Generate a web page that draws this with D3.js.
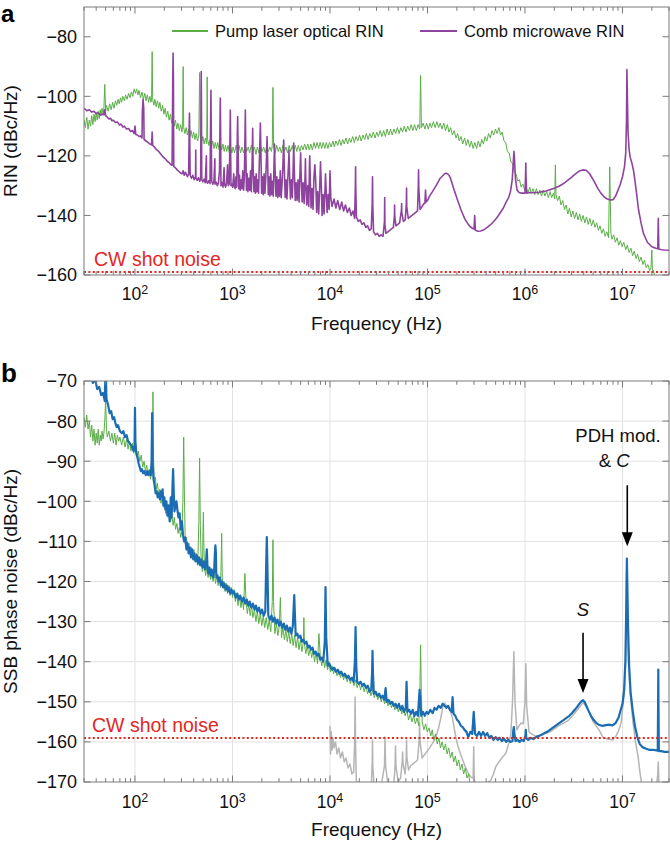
<!DOCTYPE html>
<html><head><meta charset="utf-8">
<script src="https://cdn.jsdelivr.net/npm/d3@7"></script>
<style>body{margin:0;background:#fff}svg{display:block;font-family:"Liberation Sans",Arial,Helvetica,sans-serif}</style>
</head><body><svg id="c" width="670" height="841"></svg>
<script>
// ---------- DATA (frequency in Hz, level in dB) ----------
const xTickDecades = [1e2,1e3,1e4,1e5,1e6,1e7];
const yTicksA = [-160,-140,-120,-100,-80];
const yTicksB = [-170,-160,-150,-140,-130,-120,-110,-100,-90,-80,-70];
const shotNoise = -159;
const legendLabels = ["Pump laser optical RIN","Comb microwave RIN"];

const pumpRIN = [
[30,-108],[31,-110.5],[32,-107],[33,-111],[34,-108],[35,-110],[36,-106.5],[37,-109.5],[38,-106],[39,-108.5],[40,-105.5],[41,-108],[42,-105],[43,-107.5],[44,-104.5],[45,-106.5],[46,-104],[47,-106],[48,-104],[49,-96],[50,-105],[51,-103],[53,-105],[55,-102.5],[57,-104.5],[59,-102],[61,-104],[63,-101.5],[65,-103],[67,-101],[69,-102.5],[71,-100.5],[73,-102],[75,-100],[78,-101.5],[80,-99.5],[83,-101],[86,-99],[89,-100.5],[92,-98.5],[95,-100],[98,-97.5],[101,-99],[104,-97.5],[107,-99.5],
[110,-98],[114,-100.5],[118,-98.5],[122,-101],[126,-99],[130,-101.5],[134,-99.5],[138,-102],[142,-100],[146,-102],[148,-100.5],[150,-85],[152,-101],[156,-103],[160,-101],[165,-103.5],[170,-101.5],[175,-104],[180,-102],[186,-105],[192,-103],[198,-106],[204,-104],[210,-107],[217,-105],[224,-108],[231,-106],[238,-109],[245,-107],[252,-110],[260,-108],[268,-111],[276,-109],[285,-111.5],[294,-109.5],[303,-112],[308,-110],[312,-90],[316,-110.5],[325,-112.5],[335,-110.5],[345,-113],[355,-111],[366,-113.5],[377,-111.5],[388,-114],[400,-112],[412,-114.5],[425,-112.5],[438,-115],[452,-113],[460,-92],[468,-113.5],[482,-115.5],[497,-113.5],[512,-116],[528,-114],[544,-116],[550,-93.5],[556,-114.5],[573,-116.5],[590,-114.5],[608,-117],[627,-115],[646,-117.5],[666,-115.5],[686,-117.5],[707,-115.5],[729,-118],[751,-116],[774,-118],[798,-116],[822,-118.5],[847,-116.5],[873,-118.5],[900,-116.5],[928,-119],[956,-117],[985,-119],
[1015,-117],[1050,-119],[1090,-116.5],[1130,-118.5],[1170,-116.5],[1210,-119],[1250,-117],[1300,-119],[1350,-116.5],[1400,-118.5],[1450,-117],[1500,-119],[1560,-116.5],[1620,-118.5],[1680,-117],[1740,-119.5],[1800,-117],[1870,-119],[1940,-116.5],[2010,-118.5],[2090,-117],[2170,-119],[2250,-116.5],[2330,-118.5],[2420,-117],[2510,-118.5],[2560,-116.5],[2600,-97],[2640,-117],[2740,-119],[2840,-116.5],[2950,-118.5],[3060,-117],[3170,-119],[3290,-116.5],[3410,-118.5],[3540,-117],[3670,-119],[3810,-116.5],[3950,-118.5],[4100,-116.5],[4250,-118.5],[4410,-116.5],[4570,-118.5],[4740,-116.5],[4920,-118.5],[5100,-116.5],[5290,-118],[5490,-116],[5700,-118],[5910,-116],[6130,-118],[6360,-116],[6600,-118],[6850,-115.5],[7100,-117.5],[7370,-115.5],[7640,-117.5],[7930,-115.5],[8220,-117.5],[8530,-115.5],[8850,-117.5],[9180,-115.5],[9520,-117.5],[9880,-115.5],
[10300,-117],[10700,-115],[11100,-117],[11500,-115],[12000,-116.5],[12500,-114.5],[13000,-116.5],[13500,-114.5],[14000,-116],[14600,-114],[15200,-116],[15800,-114],[16400,-115.5],[17100,-113.5],[17800,-115.5],[18500,-113.5],[19300,-115],[20100,-113],[20900,-115],[21800,-113],[22700,-114.5],[23600,-112.5],[24600,-114.5],[25600,-112.5],[26700,-114],[27800,-112],[29000,-114],[30200,-112],[31400,-113.5],[32700,-111.5],[34100,-113.5],[35500,-111.5],[37000,-113.5],[38500,-111],[40100,-113],[41800,-111],[43500,-113],[45300,-111],[47200,-112.5],[49200,-110.5],[51200,-112.5],[53300,-110.5],[55500,-112],[57800,-110],[60200,-112],[62700,-110],[65300,-111.5],[68000,-109.5],[70800,-111.5],[73700,-109.5],[76800,-111.5],[80000,-109.5],[83300,-111],[85000,-93],[86700,-110.5],[90300,-109],[94000,-111],[97900,-109],
[102000,-111],[106000,-109],[110000,-110.5],[115000,-108.5],[120000,-110.5],[125000,-108.5],[130000,-110.5],[135000,-109],[141000,-111],[147000,-109],[153000,-111.5],[160000,-109.5],[166000,-112],[173000,-110.5],[180000,-113],[188000,-111.5],[196000,-114],[204000,-112.5],[212000,-115],[221000,-113.5],[230000,-116],[240000,-114],[250000,-116.5],[260000,-114.5],[271000,-117],[282000,-115],[294000,-117.5],[306000,-115.5],[319000,-117.5],[332000,-115],[346000,-117],[360000,-114.5],[375000,-116],[390000,-113.5],[406000,-115],[423000,-112.5],[441000,-114],[459000,-111.5],[478000,-113],[498000,-111],[518000,-112.5],[540000,-110.5],[562000,-113],[585000,-112],[609000,-115],[634000,-115.5],[660000,-118.5],[688000,-119],[716000,-122],[746000,-122.5],[777000,-125.5],[809000,-126],[843000,-128.5],[878000,-128],[914000,-130.5],[952000,-129.5],[991000,-131.5],
[1030000,-130.5],[1070000,-132.5],[1120000,-130.5],[1160000,-132.5],[1210000,-131],[1260000,-133],[1310000,-131],[1360000,-133],[1420000,-131.5],[1480000,-133.5],[1540000,-131.5],[1600000,-133.5],[1670000,-132],[1740000,-134],[1810000,-132],[1880000,-134],[1960000,-132.5],[2020000,-134.5],[2050000,-123],[2080000,-133],[2160000,-135],[2250000,-133.5],[2340000,-136.5],[2440000,-135],[2540000,-138],[2640000,-136.5],[2750000,-139.5],[2860000,-137.5],[2980000,-140.5],[3100000,-138.5],[3230000,-141],[3360000,-139],[3500000,-141.5],[3640000,-139.5],[3790000,-142],[3950000,-140],[4110000,-142.5],[4280000,-140.5],[4450000,-143],[4630000,-141],[4820000,-143.5],[5020000,-141.5],[5220000,-144],[5440000,-142.5],[5660000,-145],[5890000,-143.5],[6130000,-146],[6380000,-144.5],[6640000,-147],[6910000,-145.5],[7200000,-147.5],[7400000,-123.7],[7600000,-146],[7800000,-148],[8120000,-146.5],[8450000,-149],[8800000,-147.5],[9160000,-150],[9530000,-148.5],[9920000,-150.5],
[10300000,-149],[10800000,-151.5],[11200000,-150],[11700000,-152.5],[12200000,-151],[12700000,-153.5],[13200000,-152],[13800000,-154.5],[14300000,-153],[14900000,-155.5],[15500000,-154],[16200000,-156.5],[16800000,-155],[17500000,-157.5],[18200000,-156.5],[19000000,-158.5],[19600000,-157.5],[20000000,-151.6],[20300000,-159],[20800000,-158.5],[21300000,-160]
];

const combRIN = [
[30,-104],[32,-104.8],[34,-104.5],[36,-105.3],[38,-105],[40,-105.8],[42,-105.5],[44,-106.3],[46,-106],[48,-106.2],[49,-104.5],[50,-106.5],[52,-107],[54,-107.6],[56,-107.3],[58,-108.2],[60,-108],[63,-108.8],[66,-108.6],[69,-109.6],[72,-109.3],[75,-110.3],[78,-110],[82,-111],[86,-110.8],[90,-111.8],[94,-111.5],[98,-112.5],[100,-110],[102,-112.8],[106,-113],[110,-113.5],[114,-113.3],[118,-114],[119,-105],[121,-101],[123,-104],[124,-114.5],[130,-115],[136,-115.5],[142,-116],[148,-116.3],[150,-112],[152,-116.5],[158,-117],[165,-117.8],[172,-118.3],[180,-119],[188,-119.8],[196,-120.5],[205,-121],[214,-121.8],[224,-122.3],[234,-123],[240,-123.2],[244,-95],[246,-85.5],[248,-95],[250,-123.5],[260,-124],[272,-124.8],[284,-125.3],[296,-125.8],
[305,-126],[312,-125],[320,-126.5],[330,-125.5],[345,-127],[355,-126],[360,-110],[362,-105.6],[364,-112],[368,-126.5],[380,-127.5],[392,-126.5],[405,-128],[418,-127],[420,-118],[422,-127.5],[435,-128.2],[448,-127.3],[462,-128.5],[472,-127.5],[476,-100],[478,-91.7],[480,-100],[484,-128],[498,-128.7],[512,-127.8],[526,-129],[540,-120],[542,-128.5],[556,-129.2],[572,-128.3],[588,-129.3],[596,-110],[601,-98],[606,-112],[612,-128.5],[628,-129.5],[645,-128.5],[660,-121],[662,-129.5],[680,-128.8],[700,-130],[718,-129],[736,-125],[744,-110],[750,-100.6],[756,-112],[762,-130],[780,-129],[800,-130.5],[820,-124],[830,-129.5],[850,-130.5],[870,-129],[890,-123],[905,-130],[925,-129.5],[944,-112],[950,-104.6],[956,-114],[965,-130],[985,-129.5],
[1005,-130.5],[1030,-126],[1045,-130],[1065,-131],[1085,-127],[1105,-130.5],[1120,-114],[1130,-106.8],[1140,-116],[1160,-131],[1180,-126.5],[1200,-131.5],[1225,-128],[1250,-131],[1275,-125],[1300,-131.5],[1325,-127],[1345,-112],[1355,-104.6],[1365,-114],[1390,-131.5],[1415,-126],[1440,-132],[1470,-127.5],[1500,-131.5],[1530,-125],[1560,-132],[1590,-122],[1611,-110.7],[1630,-124],[1660,-132],[1690,-127],[1720,-132.5],[1750,-126],[1780,-132],[1810,-128],[1850,-132.5],[1900,-118],[1932,-109],[1960,-120],[1990,-132.5],[2030,-127],[2070,-133],[2110,-126],[2150,-132.5],[2190,-128],[2230,-121],[2263,-113.5],[2295,-122],[2330,-133],[2370,-127],[2420,-133.5],[2470,-126],[2520,-133],[2570,-128.5],[2620,-133.5],[2670,-122],[2700,-116],[2730,-124],[2790,-133.5],[2850,-127],[2910,-134],[2970,-128],[3030,-133.5],[3090,-125],[3160,-134],[3230,-129],[3300,-122],[3351,-114.7],[3400,-124],[3470,-134],[3540,-128],[3620,-134.5],[3700,-127],[3780,-121],[3800,-118],[3850,-126],[3930,-134.5],[4020,-128],[4110,-134],[4200,-123],[4246,-115.7],[4300,-124],[4400,-135],[4500,-129],[4600,-135],[4700,-128],[4820,-135.5],[4940,-124],[5000,-119],[5060,-126],[5180,-135.5],[5300,-129],[5430,-136],[5560,-126],[5600,-121],[5650,-128],[5780,-136.5],[5920,-130],[6060,-137],[6150,-124],[6200,-120],[6260,-126],[6400,-137.5],[6550,-131],[6700,-138],[6850,-127],[7000,-123],[7150,-129],[7300,-139],[7480,-132],[7660,-139.5],[7840,-131],[8000,-122],[8150,-130],[8300,-140],[8500,-133],[8700,-139.5],[8900,-131],[9000,-126],[9150,-132],[9350,-139],[9580,-133],[9800,-138],[10000,-125],[10200,-134],
[10500,-137],[11000,-134.5],[11500,-137.5],[12000,-135],[12600,-138],[13200,-135.5],[13800,-138.5],[14400,-136.5],[15100,-139],[15800,-137.5],[16500,-140],[17200,-138.5],[17900,-141],[18200,-130],[18300,-123.7],[18400,-131],[18700,-140.5],[19500,-142],[20400,-141.5],[21300,-143],[22300,-142.5],[23300,-144],[24300,-143.5],[25400,-145],[26500,-144.5],[27100,-136],[27300,-127],[27500,-137],[28000,-145.5],[29300,-146.5],[30600,-146],[32000,-147],[33400,-146.5],[35000,-147],[36200,-142],[36400,-134],[36600,-143],[37500,-146],[39200,-145.5],[41000,-145],[42800,-144.5],[44700,-144],[45800,-140],[46000,-136.5],[46200,-140.5],[47500,-143.5],[49600,-143],[51800,-142.5],[54100,-138],[54300,-136],[54500,-139],[56600,-142],[59100,-141.5],[60700,-136],[61000,-130.8],[61300,-137],[63500,-141],[66400,-140.5],[69400,-140],[72500,-139.5],[75700,-139],[79000,-138.5],[80500,-130],[81000,-124.7],[81500,-131],[84000,-138],[88000,-137],[92000,-136],[94000,-136],[95500,-131.5],[97000,-135.5],[100000,-135],
[105000,-133.5],[110000,-132.5],[115000,-131.5],[120000,-130.5],[125000,-129.5],[130000,-128.5],[135000,-127.5],[140000,-127],[145000,-126.5],[150000,-126],[155000,-125.8],[160000,-126],[166000,-126.5],[172000,-127.5],[178000,-129],[184000,-130.5],[190000,-132],[197000,-133.5],[204000,-135],[212000,-136.5],[220000,-138],[230000,-139.5],[240000,-141],[250000,-142],[262000,-143],[275000,-143.8],[288000,-144.3],[300000,-144.6],[305000,-140],[310000,-145],[330000,-145.3],[350000,-145.2],[370000,-145],[390000,-144.5],[410000,-144],[440000,-143.2],[470000,-142.3],[500000,-141.3],[530000,-140.2],[560000,-139],[600000,-137.5],[640000,-135.5],[680000,-134],[710000,-132],[740000,-128],[760000,-122],[770000,-118.5],[780000,-121],[800000,-128],[830000,-131.5],[870000,-132.3],[910000,-132.5],[960000,-132.5],[1000000,-132.5],[1015000,-126],[1020000,-122.4],[1025000,-127],[1040000,-132.5],
[1100000,-132.3],[1200000,-132.4],[1300000,-132.3],[1400000,-132.2],[1500000,-132],[1650000,-131.8],[1800000,-131.4],[2000000,-130.9],[2200000,-130.3],[2400000,-129.6],[2600000,-128.8],[2800000,-128],[3000000,-127.2],[3200000,-126.4],[3400000,-125.7],[3600000,-125.1],[3800000,-124.8],[4000000,-124.7],[4200000,-124.8],[4400000,-125.3],[4600000,-126],[4800000,-127],[5000000,-128],[5300000,-129.5],[5600000,-131],[6000000,-132.5],[6500000,-133.8],[7000000,-134.5],[7500000,-134.8],[8000000,-134.7],[8500000,-133.5],[9000000,-131.5],[9500000,-129.5],[10000000,-127],[10500000,-123.5],[10800000,-119],[11000000,-108],[11100000,-91],[11200000,-98],[11400000,-112],[11700000,-118],[12000000,-120.5],[12500000,-122.5],[13000000,-125],[13500000,-129],[14000000,-133],[14600000,-138],[15500000,-142.5],[16400000,-146],[18000000,-149],[20000000,-150.5],[22000000,-151],[23000000,-151.2],[23200000,-144],[23300000,-141],[23400000,-145],[23600000,-151.3],[25000000,-151.5],[27000000,-151.6],[30000000,-151.7]
];

const phaseBlue = [
[30,-64],[33,-66],[35,-68],[37,-70.5],[39,-69.5],[41,-72],[43,-71.5],[45,-73.5],[47,-73],[49,-75],[50,-66],[51,-74.5],[53,-76],[55,-78],[57,-77.5],[59,-79.5],[61,-79],[63,-80.5],[65,-81.5],[67,-81],[70,-82.5],[73,-83],[76,-82.5],[79,-84],[82,-83.5],[85,-85],[88,-85.5],[91,-86],[94,-86.5],[97,-87.5],[99,-86],[100,-76.7],[101,-85],
[103,-88],[106,-89],[109,-90.5],[112,-91.5],[115,-92.5],[118,-92],[121,-93],[125,-92.5],[129,-93.5],[133,-92.5],[137,-93.5],[141,-92.5],[145,-93.5],[148,-90],[150,-78],[152,-91],[155,-94.5],[159,-96],[163,-98],[167,-97.5],[171,-99],[176,-98],[180,-99.5],[184,-97.5],[188,-99],[192,-97],[196,-101],[200,-99],[205,-102],[210,-100],[215,-103.5],[221,-101],[227,-105],[233,-99],[238,-104],[242,-97],[246,-92],[250,-98],[254,-102.5],[260,-101],[266,-100],[272,-102],[279,-104],[287,-103],[295,-107],[303,-105],[311,-108.5],[319,-110],[328,-109],[337,-112],[346,-110.5],[355,-113],[365,-111.5],[375,-114],[385,-112],[396,-114.5],[407,-113],[418,-115],[430,-113.5],[442,-115.5],[454,-114],[467,-116],[480,-114.5],[493,-116.5],[507,-115],[521,-117],[535,-115.5],[545,-112],[555,-116.5],[565,-118],[580,-116.5],[597,-118.5],[613,-117],[630,-119],[648,-117.5],[660,-113],[668,-111],[676,-113],[683,-119],[702,-118.5],[722,-120],[742,-119],[762,-121],[783,-120],[805,-121.5],[828,-120.5],[851,-122],[874,-121],[899,-122.5],[924,-121.5],[950,-123],[976,-122],[1003,-123],
[1040,-122.5],[1080,-124],[1120,-123],[1160,-124.5],[1200,-123.5],[1250,-125],[1300,-124],[1350,-125.5],[1400,-124.5],[1450,-126],[1500,-125],[1560,-126.5],[1620,-125.5],[1680,-127],[1740,-126],[1800,-127.5],[1870,-126.5],[1940,-128],[2010,-127],[2090,-128.5],[2170,-127.5],[2220,-115],[2250,-108.9],[2280,-116],[2330,-128.5],[2420,-129.5],[2510,-128.5],[2600,-130],[2700,-129],[2800,-130.5],[2900,-129.5],[3010,-131],[3120,-130],[3240,-131.5],[3360,-130.5],[3480,-132],[3610,-131],[3740,-132.5],[3880,-131.5],[4020,-133],[4160,-131],[4250,-126],[4300,-123.4],[4350,-127],[4450,-133.5],[4620,-133],[4790,-134],[4970,-133.5],[5150,-135],[5340,-134.5],[5540,-135.5],[5740,-135],[5950,-136.5],[6170,-136],[6400,-137],[6630,-136.5],[6880,-138],[7130,-137.5],[7390,-138.5],[7660,-138],[7940,-139.5],[8230,-139],[8530,-140],[8850,-135],[9000,-121.4],[9150,-134],[9500,-141],[9850,-140.5],
[10200,-141.5],[10600,-142],[11000,-141.5],[11500,-142.5],[12000,-142],[12500,-143],[13000,-142.5],[13600,-143.5],[14200,-143],[14800,-144],[15400,-143.5],[16100,-144.5],[16800,-144],[17500,-145],[18000,-140],[18300,-131.4],[18600,-141],[19000,-145],[19800,-145.5],[20600,-145],[21500,-146],[22400,-145.5],[23400,-146.5],[24400,-146],[25400,-147.5],[26500,-147],[27000,-143],[27300,-137.3],[27600,-143],[28200,-148],[29400,-147.5],[30600,-148.5],[31900,-148],[33200,-149],[34600,-148.5],[36000,-149.5],[37200,-146.6],[38200,-150],[39800,-149.5],[41500,-150.5],[43200,-150],[45000,-151],[46900,-150.5],[48900,-151.5],[50900,-150.5],[53000,-152],[55200,-151],[57500,-152.5],[59900,-151.5],[61000,-145],[62400,-152.5],[65000,-152],[67700,-153],[70500,-152],[73500,-153.5],[76500,-152.5],[79700,-153.5],[83000,-147],[86400,-153.5],[90000,-152.5],[93800,-153.5],[97700,-152.5],
[102000,-153],[107000,-152],[113000,-152.8],[118000,-151.5],[124000,-152],[130000,-151],[137000,-151.5],[143000,-150.5],[150000,-151],[156000,-151.5],[163000,-151],[170000,-152],[177000,-152.5],[181000,-148.8],[185000,-153],[193000,-153.5],[201000,-154.5],[210000,-155],[220000,-156],[230000,-156.3],[240000,-157],[251000,-157.5],[262000,-158.8],[275000,-157.5],[288000,-158],[298000,-152.5],[308000,-158],[322000,-158.5],[338000,-157.5],[355000,-158.5],[372000,-157.5],[390000,-158.5],[410000,-157.8],[430000,-159],[452000,-158.5],[475000,-159.5],[500000,-158.8],[525000,-159.5],[550000,-159],[580000,-159.8],[610000,-159.2],[640000,-160],[675000,-159.5],[710000,-160],[745000,-159.8],[760000,-157],[769000,-156.3],[780000,-158],[800000,-159.8],[840000,-159.5],[880000,-160],[925000,-159.5],[970000,-159.8],[1010000,-158.5],[1020000,-157],[1030000,-159],
[1080000,-159.5],[1150000,-159],[1220000,-159.3],[1300000,-158.8],[1390000,-158.5],[1480000,-158.2],[1580000,-157.8],[1690000,-157.5],[1800000,-157],[1920000,-156.5],[2050000,-156],[2190000,-155.5],[2340000,-155],[2500000,-154.5],[2670000,-154],[2850000,-153.5],[3040000,-152.8],[3240000,-152],[3440000,-151.2],[3640000,-150.4],[3820000,-149.8],[3940000,-149.6],[4080000,-150],[4260000,-151],[4480000,-152.2],[4750000,-153.5],[5050000,-154.5],[5400000,-155.3],[5800000,-155.8],[6250000,-156],[6750000,-155.8],[7300000,-155.7],[7900000,-155.9],[8500000,-155.3],[9100000,-154],[9600000,-152],[10000000,-150.5],[10400000,-147],[10700000,-140],[10900000,-129],[11000000,-120],[11100000,-114.3],[11200000,-120],[11400000,-131],[11700000,-141],[12100000,-147.5],[12700000,-152],[13400000,-156],[14200000,-158.8],[15000000,-160.5],[16000000,-161.3],[17500000,-161.7],[19000000,-162],[21000000,-162],[23000000,-162.2],[23200000,-150],[23300000,-142],[23400000,-150],[23600000,-162.3],[25000000,-162.3],[27000000,-162.5],[30000000,-162.5]
];

const phaseGreen = [
[30,-79],[31,-81.5],[32,-78.5],[33,-82],[34,-80],[35,-84],[36,-81],[37,-85],[38,-82],[39,-86],[40,-83],[41,-85.5],[42,-82],[43,-86],[44,-83.5],[45,-85],[46,-82.5],[47,-84.5],[48,-83],[49,-80],[50,-74.7],[51,-82],[52,-84],[54,-82.5],[56,-85],[58,-83],[60,-85.5],[62,-83],[64,-86],[66,-83.5],[68,-85],[70,-84],[73,-86],[76,-84],[79,-86.5],[82,-84.5],[85,-87],[88,-85],[91,-87.5],[94,-85.5],[97,-88],
[100,-86],[104,-89],[108,-87.5],[112,-90],[116,-88.5],[120,-91.5],[124,-90],[128,-92.5],[132,-91],[136,-93.5],[140,-92],[144,-94.5],[148,-93],[151,-88],[153,-72.7],[155,-89],[158,-95.5],[162,-94],[166,-97],[170,-95.5],[175,-98.5],[180,-97],[185,-100.5],[190,-98.5],[195,-101.5],[200,-100],[206,-103],[212,-101],[218,-104],[225,-102],[232,-105],[239,-103.5],[246,-106],[253,-104],[261,-107],[269,-105.5],[277,-108],[285,-106.5],[294,-109],[303,-107.5],[310,-100],[316,-84],[322,-100],[328,-110.5],[338,-109],[348,-112],[358,-110.5],[368,-113],[379,-111.5],[390,-114],[402,-112],[414,-115],[427,-113],[440,-116],[452,-105],[460,-89.2],[468,-106],[478,-115],[492,-117.5],[498,-108],[503,-102.7],[508,-110],[515,-116],[530,-118.5],[546,-116.5],[562,-119],[578,-117],[596,-119.5],[614,-117.5],[632,-120],[651,-118],[671,-120.5],[691,-118.5],[712,-121],[733,-119],[755,-121.5],[770,-112],[775,-108],[780,-114],[790,-121.5],[815,-120],[840,-122.5],[865,-120.5],[891,-123],[918,-121],[945,-123.5],[974,-121.5],
[1003,-124],[1035,-122],[1070,-125],[1105,-123],[1140,-126],[1180,-123.5],[1220,-126.5],[1260,-124.5],[1300,-127],[1340,-118],[1380,-125],[1420,-128],[1470,-125.5],[1520,-128.5],[1570,-126],[1620,-129],[1680,-127],[1740,-130],[1800,-127.5],[1860,-130.5],[1930,-128],[2000,-131],[2070,-128.5],[2140,-131.5],[2220,-129],[2300,-132],[2380,-129.5],[2470,-132.5],[2560,-125],[2600,-109.6],[2640,-125],[2720,-133],[2820,-130.5],[2920,-133.5],[3020,-131],[3100,-124],[3180,-134],[3290,-131.5],[3410,-134.5],[3530,-132],[3650,-135],[3780,-132.5],[3910,-135.5],[4050,-133],[4190,-136],[4340,-133.5],[4490,-136.5],[4650,-134],[4810,-137],[4980,-134.5],[5150,-137.5],[5330,-135],[5400,-129],[5470,-135.5],[5650,-138],[5850,-136],[6050,-138.5],[6270,-136.5],[6490,-139],[6720,-137],[6950,-140],[7200,-137.5],[7450,-140.5],[7700,-133],[7950,-138.5],[8230,-141],[8520,-139],[8820,-141.5],[9130,-139.5],[9450,-142],[9780,-140],
[10100,-142.5],[10500,-141],[10900,-143],[11300,-141.5],[11800,-143.5],[12300,-142],[12800,-144],[13300,-142.5],[13800,-144.5],[14400,-143],[15000,-145],[15600,-143.5],[16200,-145.5],[16900,-144],[17600,-146],[18300,-144.5],[19000,-146.5],[19800,-145],[20600,-147],[21500,-145.5],[22400,-147.5],[23300,-146],[24300,-148],[25300,-146.5],[26300,-148.5],[27400,-147],[28500,-149],[29700,-147.5],[30900,-149.5],[32200,-148],[33500,-150],[34900,-148.5],[36300,-150.5],[37800,-149],[39400,-151],[41000,-149.5],[42700,-151.5],[44500,-150],[46300,-152],[48200,-150.5],[50200,-152.5],[52300,-151],[54400,-153],[56700,-151.5],[59000,-153.5],[61400,-152],[64000,-154.5],[66600,-153],[69300,-155],[72200,-153.5],[75100,-155.5],[78200,-154],[81400,-156],[83500,-148],[85000,-135.8],[86500,-148],[88300,-155],[91900,-157],[95700,-155.5],[99600,-157.5],
[104000,-156.5],[108000,-158.5],[112000,-157],[116000,-159.5],[121000,-158],[126000,-160.5],[131000,-159],[136000,-161.5],[141000,-160],[147000,-162],[153000,-160.5],[159000,-163],[165000,-161.5],[172000,-164],[179000,-162.5],[186000,-165],[193000,-163.5],[201000,-166],[209000,-164.5],[217000,-167],[226000,-165.5],[235000,-168],[244000,-166.5],[254000,-169],[264000,-168],[275000,-171],[286000,-170],[297000,-173]
];

const phaseGray = [
[10000,-156],[10150,-163],[10300,-157.5],[10500,-162],[10700,-159],[11000,-161.5],[11400,-160],[11800,-163],[12300,-161.5],[12800,-164],[13400,-162.5],[14000,-165],[14600,-164],[15300,-166.5],[16000,-165.5],[16800,-168],[17500,-167.5],[17900,-160],[18100,-148.8],[18300,-160],[18600,-169.5],[19500,-171],[21000,-172],[24000,-172],[26500,-172],[27100,-165],[27300,-159.5],[27500,-166],[28500,-172],[33000,-172],[36200,-166],[36700,-158.8],[37200,-166],[40000,-172],[45000,-171],[46500,-166],[47000,-161],[47500,-166],[50000,-170],[53000,-169],[55000,-165],[55600,-162.5],[56200,-165.5],[59000,-168],[60500,-164],[61000,-159.5],[61500,-164],[64000,-167],[67000,-166],[71000,-165.5],[75000,-165],[79000,-164.5],[82000,-160],[83000,-155.3],[84000,-160],[88000,-164],[96000,-162.8],[105000,-161.5],[115000,-160],[122000,-158.8],[130000,-156.5],[137000,-154],[143000,-151.5],[149000,-150.3],[155000,-150.8],[162000,-151.5],[168000,-152],[173000,-152.5],[180000,-154],[188000,-156.5],[195000,-158.8],[205000,-161],[218000,-163],[230000,-164.5],[245000,-166.3],[262000,-167.8],[280000,-168.8],[294000,-169],[298000,-161.2],[302000,-169.5],[310000,-170.5],[350000,-171],[400000,-170.5],[447000,-169.5],[475000,-168],[502000,-166.2],[540000,-165],[580000,-164],[637000,-162.8],[680000,-160.5],[716000,-158],[745000,-150],[769000,-137.5],[790000,-150],[826000,-157],[870000,-156],[908000,-155.3],[960000,-155.5],[1000000,-150],[1020000,-140.5],[1040000,-151],[1100000,-157.5],[1200000,-158.2],[1270000,-158.5],[1400000,-158.5],[1600000,-158],[1800000,-157.5],[1940000,-157],[2200000,-156],[2500000,-155.3],[2830000,-154.5],[3200000,-153],[3580000,-151.5],[3940000,-150.2],[4200000,-151],[4540000,-152.5],[5000000,-155],[5750000,-157],[6300000,-158.8],[7000000,-159.3],[8000000,-159.5],[8600000,-158.5],[9200000,-157],[9700000,-155],[10000000,-152],[10400000,-148],[10800000,-140],[11000000,-128],[11100000,-118],[11200000,-126],[11500000,-140],[12000000,-148],[12800000,-155],[13600000,-160],[14500000,-163.8],[15000000,-167],[15600000,-170],[16500000,-173],[22000000,-173],[23000000,-168],[23300000,-165],[23600000,-170],[24500000,-173],[30000000,-173]
];

// ---------- DRAWING ----------
const C = {green:"#5aae46", purple:"#8e449e", blue:"#1b6db3", gray:"#b5b5b5", red:"#e4261e", axis:"#7a7a7a", grid:"#e2e2e2"};
const svg = d3.select("#c");
const defs = svg.append("defs");
const x = d3.scaleLog().domain([30,3e7]).range([84,669]);
const yA = d3.scaleLinear().domain([-160,-70]).range([275,7]);
const yB = d3.scaleLinear().domain([-170,-70]).range([782,381]);
const [X0,X1] = x.range();

function setupPanel(y, id, yTicks, grid){
  const [yb, yt] = y.range();
  defs.append("clipPath").attr("id",id).append("rect")
    .attr("x",X0).attr("y",yt).attr("width",X1-X0).attr("height",yb-yt);
  const g = svg.append("g");
  if(grid){
    g.selectAll(".vg").data(xTickDecades).join("line")
      .attr("x1",d=>x(d)).attr("x2",d=>x(d)).attr("y1",yt).attr("y2",yb)
      .attr("stroke",C.grid).attr("stroke-width",1);
    g.selectAll(".hg").data(yTicks.filter(v=>v>y.domain()[0]&&v<y.domain()[1])).join("line")
      .attr("x1",X0).attr("x2",X1).attr("y1",d=>y(d)).attr("y2",d=>y(d))
      .attr("stroke",C.grid).attr("stroke-width",1);
  }
  return g;
}
function drawLine(g, y, id, data, color, w){
  const line = d3.line().x(d=>x(d[0])).y(d=>y(d[1]));
  g.append("path").attr("clip-path",`url(#${id})`).datum(data)
    .attr("d",line).attr("fill","none").attr("stroke",color)
    .attr("stroke-width",w).attr("stroke-linejoin","round");
}
function drawAxes(y, yTicks, labelY, titleY, yTitle){
  const [yb, yt] = y.range();
  const g = svg.append("g");
  const ticks = x.ticks();
  ticks.forEach(v=>{
    const major = Math.abs(Math.log10(v)-Math.round(Math.log10(v)))<1e-9;
    const L = major?6.5:3.8;
    [[yb,-L],[yt,L]].forEach(([y0,dl])=>{
      g.append("line").attr("x1",x(v)).attr("x2",x(v)).attr("y1",y0).attr("y2",y0+dl)
        .attr("stroke",C.axis).attr("stroke-width",1);
    });
  });
  yTicks.forEach(v=>{
    [[X0,6.5],[X1,-6.5]].forEach(([x0,dl])=>{
      g.append("line").attr("x1",x0).attr("x2",x0+dl).attr("y1",y(v)).attr("y2",y(v))
        .attr("stroke",C.axis).attr("stroke-width",1);
    });
    g.append("text").attr("x",X0-7).attr("y",y(v)).attr("dy","0.36em")
      .attr("text-anchor","end").attr("font-size",18).attr("fill","#111")
      .text(String(v).replace("-","\u2212"));
  });
  g.append("rect").attr("x",X0).attr("y",yt).attr("width",X1-X0).attr("height",yb-yt)
    .attr("fill","none").attr("stroke",C.axis).attr("stroke-width",1);
  xTickDecades.forEach(v=>{
    const t = g.append("text").attr("x",x(v)).attr("y",labelY).attr("text-anchor","middle")
      .attr("font-size",17.5).attr("fill","#111");
    t.append("tspan").text("10");
    t.append("tspan").attr("dy","-0.5em").attr("font-size",12.5).text(String(Math.round(Math.log10(v))));
  });
  g.append("text").attr("x",(X0+X1)/2).attr("y",titleY).attr("text-anchor","middle")
    .attr("font-size",19).attr("fill","#111").text("Frequency (Hz)");
  g.append("text").attr("transform",`translate(17,${(yt+yb)/2}) rotate(-90)`)
    .attr("text-anchor","middle").attr("font-size",19).attr("fill","#111").text(yTitle);
}
function shot(g, y, id, tx, ty){
  g.append("line").attr("clip-path",`url(#${id})`)
    .attr("x1",X0).attr("x2",X1).attr("y1",y(shotNoise)).attr("y2",y(shotNoise))
    .attr("stroke",C.red).attr("stroke-width",2).attr("stroke-dasharray","2,2.4");
  g.append("text").attr("x",tx).attr("y",ty).attr("font-size",19.5).attr("fill",C.red).text("CW shot noise");
}

// Panel a
const gA = setupPanel(yA,"clipA",yTicksA,false);
drawLine(gA,yA,"clipA",pumpRIN,C.green,1);
drawLine(gA,yA,"clipA",combRIN,C.purple,1.6);
shot(gA,yA,"clipA",94,266);
drawAxes(yA,yTicksA,300,330,"RIN (dBc/Hz)");
// legend
const leg = svg.append("g");
[[172,208,215,C.green,legendLabels[0]],[420,457,464,C.purple,legendLabels[1]]].forEach(([a,b,t,c,s])=>{
  leg.append("line").attr("x1",a).attr("x2",b).attr("y1",31).attr("y2",31).attr("stroke",c).attr("stroke-width",2);
  leg.append("text").attr("x",t).attr("y",37).attr("font-size",16.5).attr("fill","#111").text(s);
});

// Panel b
const gB = setupPanel(yB,"clipB",yTicksB,true);
drawLine(gB,yB,"clipB",phaseGray,C.gray,1.5);
drawLine(gB,yB,"clipB",phaseGreen,C.green,1);
drawLine(gB,yB,"clipB",phaseBlue,C.blue,2.2);
shot(gB,yB,"clipB",92,732);
drawAxes(yB,yTicksB,808,836,"SSB phase noise (dBc/Hz)");

// annotations (panel b)
function arrow(f, v1, v2){
  const xp = x(f), y1 = yB(v1), y2 = yB(v2);
  svg.append("line").attr("x1",xp).attr("x2",xp).attr("y1",y1).attr("y2",y2-12)
    .attr("stroke","#000").attr("stroke-width",1.6);
  svg.append("path").attr("d",`M${xp-5.5},${y2-14}L${xp+5.5},${y2-14}L${xp},${y2}Z`).attr("fill","#000");
}
arrow(1.12e7,-96,-111.2);
arrow(3.94e6,-132.8,-147.8);
const ann = svg.append("g").attr("font-size",18.5).attr("fill","#111");
ann.append("text").attr("x",x(9.0e6)).attr("y",yB(-85.2)).attr("text-anchor","middle").text("PDH mod.");
const t2 = ann.append("text").attr("x",x(8.2e6)).attr("y",yB(-91.5)).attr("text-anchor","middle");
t2.append("tspan").text("& ");
t2.append("tspan").attr("font-style","italic").text("C");
ann.append("text").attr("x",x(3.94e6)).attr("y",yB(-128.6)).attr("text-anchor","middle").attr("font-style","italic").text("S");

// panel letters
svg.append("text").attr("x",1).attr("y",22).attr("font-size",24).attr("font-weight","bold").text("a");
svg.append("text").attr("x",1).attr("y",382).attr("font-size",26).attr("font-weight","bold").text("b");
</script></body></html>
